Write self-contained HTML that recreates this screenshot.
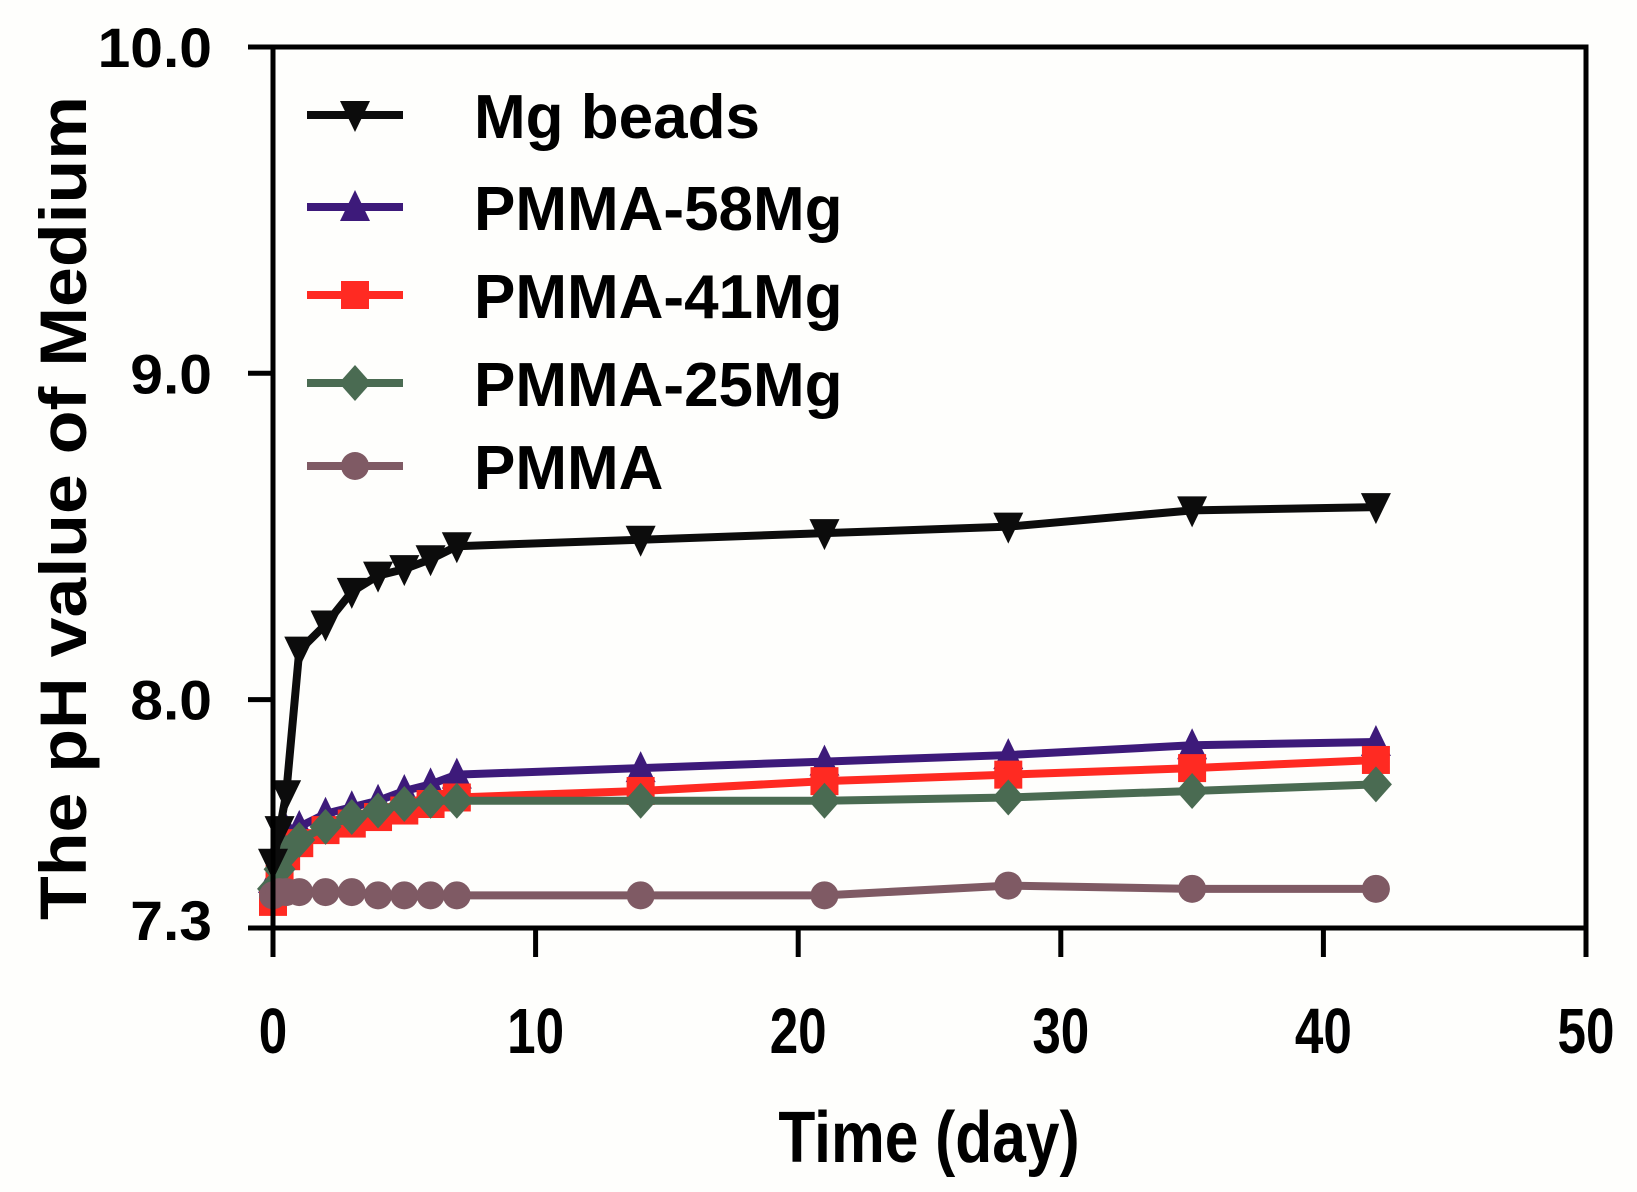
<!DOCTYPE html>
<html><head><meta charset="utf-8"><style>
html,body{margin:0;padding:0;background:#fefefc;}
svg{display:block;}
text{font-family:"Liberation Sans",Arial,sans-serif;font-weight:bold;fill:#000;}
</style></head><body>
<svg id="chart" width="1637" height="1192" viewBox="0 0 1637 1192">
<rect width="1637" height="1192" fill="#fefefc"/>
<g id="series"></g>
<g id="axes"></g>
<g id="legend"></g>
</svg>
<script>
const days = [0, 0.25, 0.5, 1, 2, 3, 4, 5, 6, 7, 14, 21, 28, 35, 42];
const mgBeads = [7.5, 7.6, 7.71, 8.15, 8.23, 8.33, 8.38, 8.40, 8.43, 8.47, 8.49, 8.51, 8.53, 8.58, 8.59];
const pmma58 = [7.45, 7.55, 7.60, 7.61, 7.65, 7.67, 7.69, 7.72, 7.74, 7.77, 7.79, 7.81, 7.83, 7.86, 7.87];
const pmma41 = [7.38, 7.45, 7.52, 7.56, 7.60, 7.62, 7.64, 7.66, 7.68, 7.70, 7.72, 7.75, 7.77, 7.79, 7.815];
const pmma25 = [7.42, 7.48, 7.53, 7.57, 7.61, 7.64, 7.66, 7.68, 7.69, 7.69, 7.69, 7.69, 7.70, 7.72, 7.74];
const pmma = [7.40, 7.41, 7.41, 7.41, 7.41, 7.41, 7.40, 7.40, 7.40, 7.40, 7.40, 7.40, 7.43, 7.42, 7.42];
const xTicks = [0, 10, 20, 30, 40, 50];
const yTicks = [7.3, 8.0, 9.0, 10.0];
const yTickLabels = ["7.3", "8.0", "9.0", "10.0"];
const seriesNames = ["Mg beads", "PMMA-58Mg", "PMMA-41Mg", "PMMA-25Mg", "PMMA"];

const NS = "http://www.w3.org/2000/svg";
const X0 = 273, X1 = 1586, Y0 = 928, Y1 = 47;
function xs(v){ return X0 + (v - 0) / 50 * (X1 - X0); }
function ys(v){ return Y0 - (v - 7.3) / 2.7 * (Y0 - Y1); }
function mk(tag, attrs, parent){ const e = document.createElementNS(NS, tag); for (const k in attrs) e.setAttribute(k, attrs[k]); parent.appendChild(e); return e; }

const axes = document.getElementById('axes');
const sg = document.getElementById('series');
const lg = document.getElementById('legend');

const frame = mk('rect', {x: X0, y: Y1, width: X1 - X0, height: Y0 - Y1, fill: 'none', stroke: '#000', 'stroke-width': 5}, axes);


const leftExt = mk('line', {x1: X0, y1: Y0, x2: X0, y2: 957, stroke: '#000', 'stroke-width': 5}, axes);



xTicks.forEach(t => {
  const l = mk('line', {x1: xs(t), y1: Y0, x2: xs(t), y2: 957, stroke: '#000', 'stroke-width': 5}, axes);
  
  
  const tx = mk('text', {x: xs(t), y: 1053, 'font-size': 64, 'text-anchor': 'middle', transform: `translate(${xs(t)},0) scale(0.8,1) translate(${-xs(t)},0)`}, axes);
  tx.textContent = String(t);
  
  
});
yTicks.forEach((t, i) => {
  const l = mk('line', {x1: 248, y1: ys(t), x2: X0, y2: ys(t), stroke: '#000', 'stroke-width': 5}, axes);
  
  
  const yy = i === 0 ? ys(t) + 12 : ys(t) + 20;
  const tx = mk('text', {x: 212, y: yy, 'font-size': 56, 'text-anchor': 'end', 'font-family': '"DejaVu Sans", sans-serif', transform: `translate(212,0) scale(1.05,1) translate(-212,0)`}, axes);
  tx.textContent = yTickLabels[i];
  
  
});
const xt = mk('text', {x: 929, y: 1162, 'font-size': 72, 'text-anchor': 'middle', transform: 'translate(929,0) scale(0.84,1) translate(-929,0)'}, axes);
xt.textContent = 'Time (day)';


const yt = mk('text', {x: 0, y: 0, 'font-size': 66, 'text-anchor': 'middle', textLength: 824, lengthAdjust: 'spacingAndGlyphs', transform: 'translate(86,508) rotate(-90)'}, axes);
yt.textContent = 'The pH value of Medium';



const colors = ['#0c0c0c', '#3d1a7a', '#ff2a22', '#4a6b52', '#7f5a64'];
const shapes = ['tri-down', 'tri-up', 'square', 'diamond', 'circle'];
const allSeries = [mgBeads, pmma58, pmma41, pmma25, pmma];

function marker(shape, cx, cy, color, parent){
  const r = 14;
  let e;
  if (shape === 'circle') e = mk('circle', {cx, cy, r: r, fill: color}, parent);
  else if (shape === 'square') e = mk('rect', {x: cx - r, y: cy - r, width: 2 * r, height: 2 * r, fill: color}, parent);
  else if (shape === 'diamond') e = mk('polygon', {points: `${cx},${cy - r - 4} ${cx + r + 2},${cy} ${cx},${cy + r + 4} ${cx - r - 2},${cy}`, fill: color}, parent);
  else if (shape === 'tri-up') e = mk('polygon', {points: `${cx},${cy - r - 3} ${cx + r + 1},${cy + r} ${cx - r - 1},${cy + r}`, fill: color}, parent);
  else e = mk('polygon', {points: `${cx - r - 1},${cy - r} ${cx + r + 1},${cy - r} ${cx},${cy + r + 3}`, fill: color}, parent);
  return e;
}

const order = [1, 2, 3, 4, 0];
order.forEach(si => {
  const vals = allSeries[si];
  const g = mk('g', {}, sg);
  
  
  const pts = days.map((d, i) => xs(d) + ',' + ys(vals[i])).join(' ');
  const pl = mk('polyline', {points: pts, fill: 'none', stroke: colors[si], 'stroke-width': 8, 'stroke-linejoin': 'round'}, g);
  
  
  days.forEach((d, i) => {
    const m = marker(shapes[si], xs(d), ys(vals[i]), colors[si], g);
    
    
  });
});

const legY = [115, 207, 295, 383, 466];
seriesNames.forEach((n, i) => {
  const g = mk('g', {}, lg);
  
  
  const l = mk('line', {x1: 307, y1: legY[i], x2: 403, y2: legY[i], stroke: colors[i], 'stroke-width': 8}, g);
  
  
  const m = marker(shapes[i], 355, legY[i], colors[i], g);
  
  
  const t = mk('text', {x: 474, y: legY[i] + 23, 'font-size': 62}, g);
  t.textContent = n;
  
  
});
</script>
</body></html>
